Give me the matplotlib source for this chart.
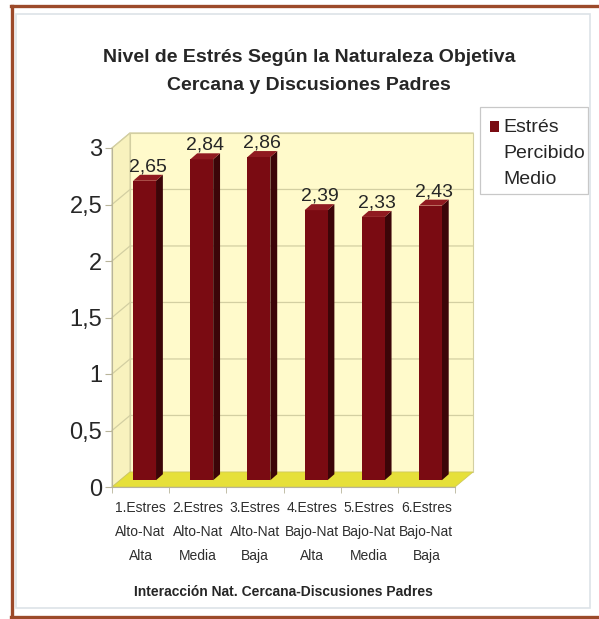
import matplotlib
matplotlib.use("Agg")
import matplotlib.pyplot as plt
from matplotlib.patches import Polygon, Rectangle
from matplotlib.lines import Line2D

plt.rcParams['font.family'] = ['Liberation Sans', 'DejaVu Sans']

# ---------------- data ----------------
categories = ["1.Estres\nAlto-Nat\nAlta", "2.Estres\nAlto-Nat\nMedia", "3.Estres\nAlto-Nat\nBaja",
              "4.Estres\nBajo-Nat\nAlta", "5.Estres\nBajo-Nat\nMedia", "6.Estres\nBajo-Nat\nBaja"]
values = [2.65, 2.84, 2.86, 2.39, 2.33, 2.43]
ytick_values = [0, 0.5, 1, 1.5, 2, 2.5, 3]
ytick_labels = ["0", "0,5", "1", "1,5", "2", "2,5", "3"]
series_name = "Estrés\nPercibido\nMedio"
title = "Nivel de Estrés Según la Naturaleza Objetiva\nCercana y Discusiones Padres"
xlabel = "Interacción Nat. Cercana-Discusiones Padres"

# ---------------- style ----------------
W, H = 599, 619
wall_c = "#FFFACB"
side_c = "#F8F2BE"
floor_c = "#E6E03A"
grid_c = "#D3CFA2"
front_c = "#7A0B12"
side_bar_c = "#3C0508"
top_bar_c = "#901A20"
txt_c = "#262626"

fig = plt.figure(figsize=(W / 100, H / 100), dpi=100)
fig.patch.set_facecolor("white")
ax = fig.add_axes([112 / W, (H - 487) / H, 343 / W, 339 / H])
n = len(values)
ymax = ytick_values[-1]
ax.set_xlim(0, n)
ax.set_ylim(0, ymax)
ax.set_facecolor("none")

DX, DY = 0.315, 0.133      # depth of the walls (data units)
BX, BY = 0.07, 0.06        # bar placement inside the depth
BW = 0.40                  # bar front width
SDX, SDY = 0.12, 0.053     # bar depth

# back wall, side wall, floor
ax.add_patch(Polygon([(DX, DY), (n + DX, DY), (n + DX, ymax + DY), (DX, ymax + DY)],
                     closed=True, fc=wall_c, ec=grid_c, lw=0.8, clip_on=False, zorder=0.5))
ax.add_patch(Polygon([(0, 0), (DX, DY), (DX, ymax + DY), (0, ymax)],
                     closed=True, fc=side_c, ec=grid_c, lw=0.8, clip_on=False, zorder=0.5))
ax.add_patch(Polygon([(0, 0), (n, 0), (n + DX, DY), (DX, DY)],
                     closed=True, fc=floor_c, ec="#CFC95A", lw=0.6, clip_on=False, zorder=0.6))
for v in ytick_values[1:]:
    ax.plot([0, DX, n + DX], [v, v + DY, v + DY], color=grid_c, lw=0.9,
            clip_on=False, zorder=0.55)

# bars
pos = [i + 0.5 + BX for i in range(n)]
bars = ax.bar(pos, values, width=BW, bottom=BY, color=front_c, zorder=3, clip_on=False)
for rect, v in zip(bars, values):
    x0 = rect.get_x()
    x1 = x0 + rect.get_width()
    b = rect.get_y()
    t = b + rect.get_height()
    ax.add_patch(Polygon([(x1, b), (x1, t), (x1 + SDX, t + SDY), (x1 + SDX, b + SDY)],
                         closed=True, fc=side_bar_c, ec="none", zorder=2.9, clip_on=False))
    ax.add_patch(Polygon([(x0, t), (x1, t), (x1 + SDX, t + SDY), (x0 + SDX, t + SDY)],
                         closed=True, fc=top_bar_c, ec="none", zorder=3.1, clip_on=False))
    ax.text((x0 + x1) / 2 + SDX / 2, t + 0.085, f"{v:.2f}".replace(".", ","),
            ha="center", va="baseline", fontsize=14, color=txt_c, zorder=5)

# axes styling
for s in ["top", "right"]:
    ax.spines[s].set_visible(False)
ax.spines["left"].set_color("#B8B49A")
ax.spines["bottom"].set_color("#B8B49A")
ax.spines["left"].set_linewidth(0.8)
ax.spines["bottom"].set_linewidth(0.8)
ax.set_yticks(ytick_values, ytick_labels, fontsize=17, color=txt_c)
ax.tick_params(axis="y", length=5, color="#B8B49A", pad=2)
ax.set_xticks([i + 0.5 for i in range(n)], categories, fontsize=10, color="#2E2E2E",
              linespacing=1.9)
ax.tick_params(axis="x", which="major", length=0, pad=10)
ax.set_xticks(range(n + 1), minor=True)
ax.tick_params(axis="x", which="minor", length=4, color="#B8B49A")

ax.set_xlabel(xlabel, fontsize=10, fontweight="bold", color=txt_c)
ax.xaxis.set_label_coords((283 - 112) / 343, (487 - 592) / 339)
ax.xaxis.label.set_va("center")

# title (va='baseline' anchors the last line)
fig.text(309 / W, 1 - 90 / H, title, ha="center", va="baseline", fontsize=14,
         fontweight="bold", color=txt_c, linespacing=1.85, multialignment="center")

# legend (manual box)
fig.add_artist(Rectangle((480 / W, 1 - 194 / H), 108 / W, 87 / H, transform=fig.transFigure,
                         fc="white", ec="#C8C8C8", lw=0.9))
fig.add_artist(Rectangle((490 / W, 1 - 132 / H), 9 / W, 11 / H, transform=fig.transFigure,
                         fc=front_c, ec="none"))
fig.text(503 / W, 1 - 184 / H, series_name, ha="left", va="baseline", fontsize=14,
         color=txt_c, linespacing=1.68)

# outer frame
brown = "#9C4A2A"
fig.add_artist(Line2D([11.5 / W, 11.5 / W], [1 - 617 / H, 1 - 6 / H], color=brown, lw=2.4,
                      transform=fig.transFigure))
fig.add_artist(Line2D([10.5 / W, 1.0], [1 - 6 / H, 1 - 6 / H], color=brown, lw=2.4,
                      transform=fig.transFigure))
fig.add_artist(Line2D([10.5 / W, 1.0], [1 - 617 / H, 1 - 617 / H], color=brown, lw=2.4,
                      transform=fig.transFigure))
fig.add_artist(Rectangle((16 / W, 1 - 608 / H), 574 / W, 594 / H, transform=fig.transFigure,
                         fc="none", ec="#DDE3E8", lw=1.2))

fig.savefig("out.png", dpi=100)
